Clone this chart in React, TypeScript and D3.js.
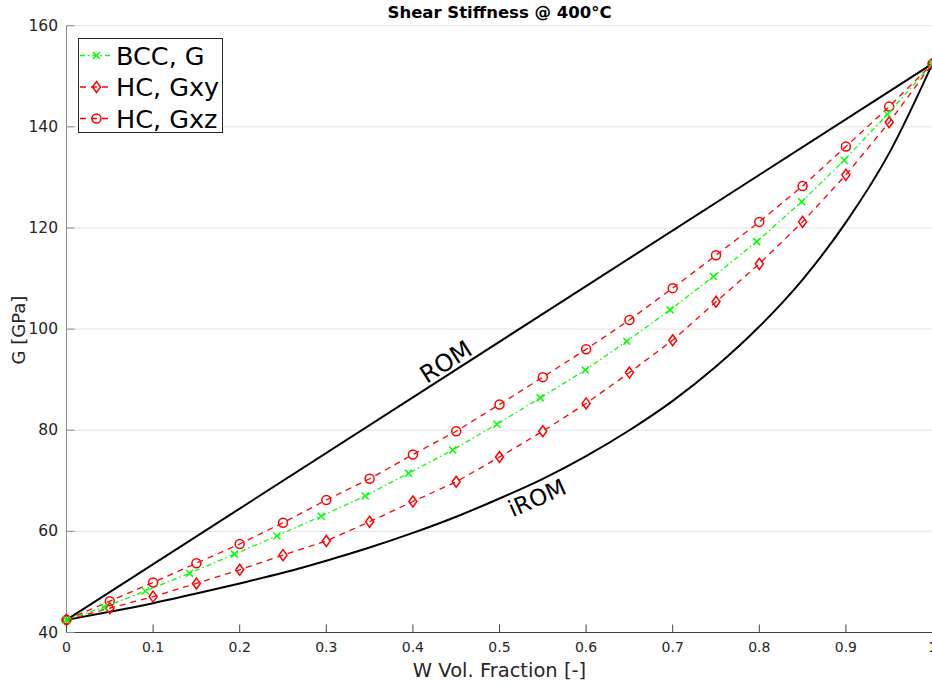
import React from "react";
import * as d3 from "d3";

// ---- data ----
const title = "Shear Stiffness @ 400°C";
const xLabel = "W Vol. Fraction [-]";
const yLabel = "G [GPa]";
const xTicks = [0, 0.1, 0.2, 0.3, 0.4, 0.5, 0.6, 0.7, 0.8, 0.9, 1];
const yTicks = [40, 60, 80, 100, 120, 140, 160];

const romX = [0, 1];
const romG = [42.5, 152.5];

const iromX = [0, 0.05, 0.1, 0.15, 0.2, 0.25, 0.3, 0.35, 0.4, 0.45, 0.5, 0.55, 0.6, 0.65, 0.7, 0.75, 0.8, 0.85, 0.9, 0.95, 1];
const iromG = [42.5, 44.1, 45.8, 47.7, 49.7, 51.8, 54.2, 56.8, 59.7, 62.9, 66.5, 70.4, 74.9, 80.0, 85.8, 92.6, 100.5, 109.8, 121.1, 134.8, 152.5];

const bccX = [0, 0.043, 0.091, 0.142, 0.194, 0.243, 0.294, 0.345, 0.395, 0.446, 0.497, 0.547, 0.599, 0.647, 0.697, 0.747, 0.797, 0.849, 0.898, 0.948, 1];
const bccG = [42.5, 45.0, 48.2, 51.7, 55.5, 59.1, 63.0, 67.0, 71.5, 76.1, 81.2, 86.4, 91.9, 97.6, 103.8, 110.4, 117.3, 125.2, 133.4, 142.5, 152.5];

const hcX = [0, 0.05, 0.1, 0.15, 0.2, 0.25, 0.3, 0.35, 0.4, 0.45, 0.5, 0.55, 0.6, 0.65, 0.7, 0.75, 0.8, 0.85, 0.9, 0.95, 1];
const hcGxy = [42.5, 44.8, 47.1, 49.7, 52.4, 55.3, 58.1, 61.9, 65.9, 69.8, 74.7, 79.8, 85.3, 91.4, 97.8, 105.4, 112.9, 121.2, 130.5, 140.9, 152.5];
const hcGxz = [42.5, 46.2, 49.9, 53.7, 57.5, 61.7, 66.2, 70.4, 75.2, 79.8, 85.1, 90.5, 96.0, 101.8, 108.1, 114.6, 121.2, 128.3, 136.1, 144.0, 152.5];

const legendLabels = ["BCC, G", "HC, Gxy", "HC, Gxz"];

const W = 932;
const H = 687;
const FONT = "'DejaVu Sans', sans-serif";
const RED = "#ff0000";
const GREEN = "#00ff00";

const x = d3.scaleLinear().domain([0, 1]).range([66.5, 932.5]);
const y = d3.scaleLinear().domain([40, 160]).range([632.5, 25.7]);

const zip = (xs: number[], ys: number[]) => xs.map((v, i) => [v, ys[i]] as [number, number]);
const line = d3.line<[number, number]>().x((d) => x(d[0])).y((d) => y(d[1]));
const curve = d3
  .line<[number, number]>()
  .x((d) => x(d[0]))
  .y((d) => y(d[1]))
  .curve(d3.curveMonotoneX);

const XMark = ({ cx, cy }: { cx: number; cy: number }) => (
  <path d={`M${cx - 3.5},${cy - 3.5}L${cx + 3.5},${cy + 3.5}M${cx - 3.5},${cy + 3.5}L${cx + 3.5},${cy - 3.5}`} stroke={GREEN} strokeWidth={1.5} fill="none" />
);
const Diamond = ({ cx, cy }: { cx: number; cy: number }) => (
  <path d={`M${cx},${cy - 5.5}L${cx + 4},${cy}L${cx},${cy + 5.5}L${cx - 4},${cy}Z`} stroke={RED} strokeWidth={1.5} fill="none" />
);
const Circ = ({ cx, cy }: { cx: number; cy: number }) => (
  <circle cx={cx} cy={cy} r={4.5} stroke={RED} strokeWidth={1.5} fill="none" />
);

export default function App() {
  const romAngle = (Math.atan2(y(romG[1]) - y(romG[0]), x(1) - x(0)) * 180) / Math.PI;
  const legendRows = [
    { label: legendLabels[0], color: GREEN, dash: "5,3,1.5,3", Mark: XMark },
    { label: legendLabels[1], color: RED, dash: "6,5", Mark: Diamond },
    { label: legendLabels[2], color: RED, dash: "6,5", Mark: Circ },
  ];
  return (
    <svg width={W} height={H} style={{ position: "absolute", left: 0, top: 0, background: "#fff" }} fontFamily={FONT}>
      <rect x={0} y={0} width={W} height={H} fill="#fff" />
      {/* grid */}
      {yTicks.map((t) => (
        <line key={"g" + t} x1={x(0)} x2={x(1)} y1={y(t)} y2={y(t)} stroke="#e3e3e3" strokeWidth={1} />
      ))}
      {/* axes */}
      <line x1={x(0)} x2={x(0)} y1={y(40)} y2={y(160)} stroke="#8c8c8c" strokeWidth={1} />
      <line x1={x(0)} x2={x(1)} y1={y(40)} y2={y(40)} stroke="#404040" strokeWidth={1} />
      {xTicks.map((t) => (
        <g key={"xt" + t}>
          <line x1={x(t)} x2={x(t)} y1={y(40)} y2={y(40) - 8} stroke="#404040" strokeWidth={1} />
          <text x={x(t)} y={647} fontSize={14} fill="#262626" textAnchor="middle" dominantBaseline="central">
            {d3.format("~g")(t)}
          </text>
        </g>
      ))}
      {yTicks.map((t) => (
        <g key={"yt" + t}>
          <line x1={x(0)} x2={x(0) + 8} y1={y(t)} y2={y(t)} stroke="#8c8c8c" strokeWidth={1} />
          <text x={58} y={y(t)} fontSize={15.5} fill="#262626" textAnchor="end" dominantBaseline="central">
            {t}
          </text>
        </g>
      ))}
      <text x={(x(0) + x(1)) / 2} y={670} fontSize={19.5} fill="#262626" textAnchor="middle" dominantBaseline="central">
        {xLabel}
      </text>
      <text transform={`translate(18,330) rotate(-90)`} fontSize={18} fill="#262626" textAnchor="middle" dominantBaseline="central">
        {yLabel}
      </text>
      <text x={(x(0) + x(1)) / 2} y={12} fontSize={16.5} fontWeight="bold" fill="#000" textAnchor="middle" dominantBaseline="central">
        {title}
      </text>

      {/* ROM / iROM */}
      <path d={line(zip(romX, romG)) || ""} stroke="#000" strokeWidth={2} fill="none" />
      <path d={curve(zip(iromX, iromG)) || ""} stroke="#000" strokeWidth={2} fill="none" />
      <text transform={`translate(446,362) rotate(${romAngle})`} fontSize={24} textAnchor="middle" dominantBaseline="central">
        ROM
      </text>
      <text transform={`translate(537,498) rotate(-24)`} fontSize={23} textAnchor="middle" dominantBaseline="central">
        iROM
      </text>

      {/* HC Gxy */}
      <path d={line(zip(hcX, hcGxy)) || ""} stroke={RED} strokeWidth={1.3} strokeDasharray="6,5" fill="none" />
      {zip(hcX, hcGxy).map((d, i) => (
        <Diamond key={"d" + i} cx={x(d[0])} cy={y(d[1])} />
      ))}
      {/* HC Gxz */}
      <path d={line(zip(hcX, hcGxz)) || ""} stroke={RED} strokeWidth={1.3} strokeDasharray="6,5" fill="none" />
      {zip(hcX, hcGxz).map((d, i) => (
        <Circ key={"c" + i} cx={x(d[0])} cy={y(d[1])} />
      ))}
      {/* BCC */}
      <path d={line(zip(bccX, bccG)) || ""} stroke={GREEN} strokeWidth={1.3} strokeDasharray="5,3,1.5,3" fill="none" />
      {zip(bccX, bccG).map((d, i) => (
        <XMark key={"x" + i} cx={x(d[0])} cy={y(d[1])} />
      ))}

      {/* legend */}
      <rect x={78.5} y={38.5} width={144} height={94} fill="#fff" stroke="#262626" strokeWidth={1} />
      {legendRows.map((r, i) => {
        const cy = 55.5 + i * 31.5;
        return (
          <g key={"l" + i}>
            <line x1={80} x2={113} y1={cy} y2={cy} stroke={r.color} strokeWidth={1.3} strokeDasharray={r.dash} />
            <r.Mark cx={96.5} cy={cy} />
            <text x={116} y={cy} fontSize={25.5} fill="#000" dominantBaseline="central">
              {r.label}
            </text>
          </g>
        );
      })}
    </svg>
  );
}
